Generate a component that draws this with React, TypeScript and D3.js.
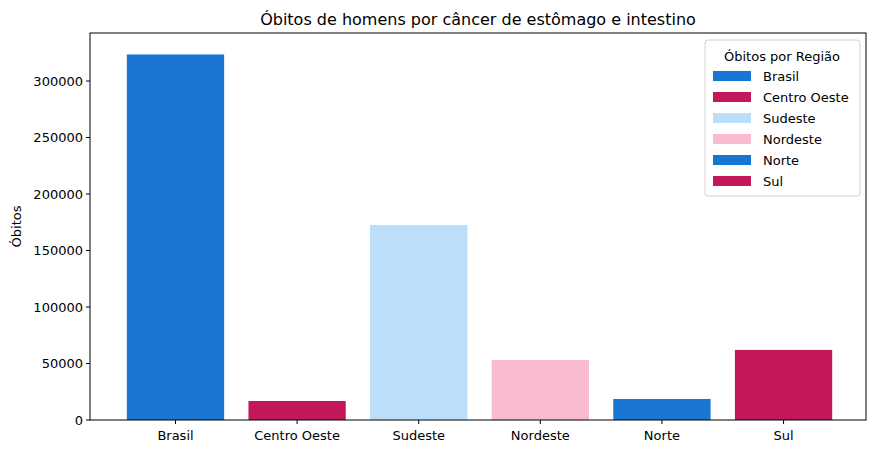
import React from "react";
import * as d3 from "d3";

const categories = ["Brasil", "Centro Oeste", "Sudeste", "Nordeste", "Norte", "Sul"];
const values = [323500, 16800, 172600, 53100, 18600, 62000];
const colors = ["#1976d2", "#c2185b", "#bbdefb", "#f8bbd0", "#1976d2", "#c2185b"];
const yTicks = [0, 50000, 100000, 150000, 200000, 250000, 300000];

export default function App() {
  const W = 876, H = 454;
  const L = 90, R = 866, T = 33, B = 420;
  const x = d3.scaleLinear().domain([-0.703, 5.678]).range([L, R]);
  const y = d3.scaleLinear().domain([0, 342500]).range([B, T]);
  const bw = x(0.4) - x(-0.4);
  const font = "DejaVu Sans, sans-serif";
  return (
    <svg width={W} height={H} style={{ position: "absolute", left: 0, top: 0 }} fontFamily={font}>
      <rect width={W} height={H} fill="#fff" />
      {values.map((v, i) => (
        <rect key={i} x={x(i) - bw / 2} y={y(v)} width={bw} height={B - y(v)} fill={colors[i]} />
      ))}
      <rect x={L} y={T} width={R - L} height={B - T} fill="none" stroke="#000" strokeWidth={1} />
      {yTicks.map((t) => (
        <g key={t}>
          <line x1={L - 4} x2={L} y1={y(t)} y2={y(t)} stroke="#000" />
          <text x={L - 7} y={y(t)} dy="0.35em" textAnchor="end" fontSize={13}>{t}</text>
        </g>
      ))}
      {categories.map((c, i) => (
        <g key={c}>
          <line x1={x(i)} x2={x(i)} y1={B} y2={B + 4} stroke="#000" />
          <text x={x(i)} y={B + 20} textAnchor="middle" fontSize={13}>{c}</text>
        </g>
      ))}
      <text transform={`translate(21,${(T + B) / 2}) rotate(-90)`} textAnchor="middle" fontSize={13}>Óbitos</text>
      <text x={(L + R) / 2} y={25} textAnchor="middle" fontSize={16}>Óbitos de homens por câncer de estômago e intestino</text>
      <g>
        <rect x={705} y={40} width={155} height={156} rx={3} fill="#fff" stroke="#ccc" opacity={0.9} />
        <text x={782} y={61} textAnchor="middle" fontSize={13}>Óbitos por Região</text>
        {categories.map((c, i) => (
          <g key={c}>
            <rect x={713} y={71 + i * 21} width={38} height={10} fill={colors[i]} />
            <text x={763} y={76 + i * 21} dy="0.35em" fontSize={13}>{c}</text>
          </g>
        ))}
      </g>
    </svg>
  );
}
